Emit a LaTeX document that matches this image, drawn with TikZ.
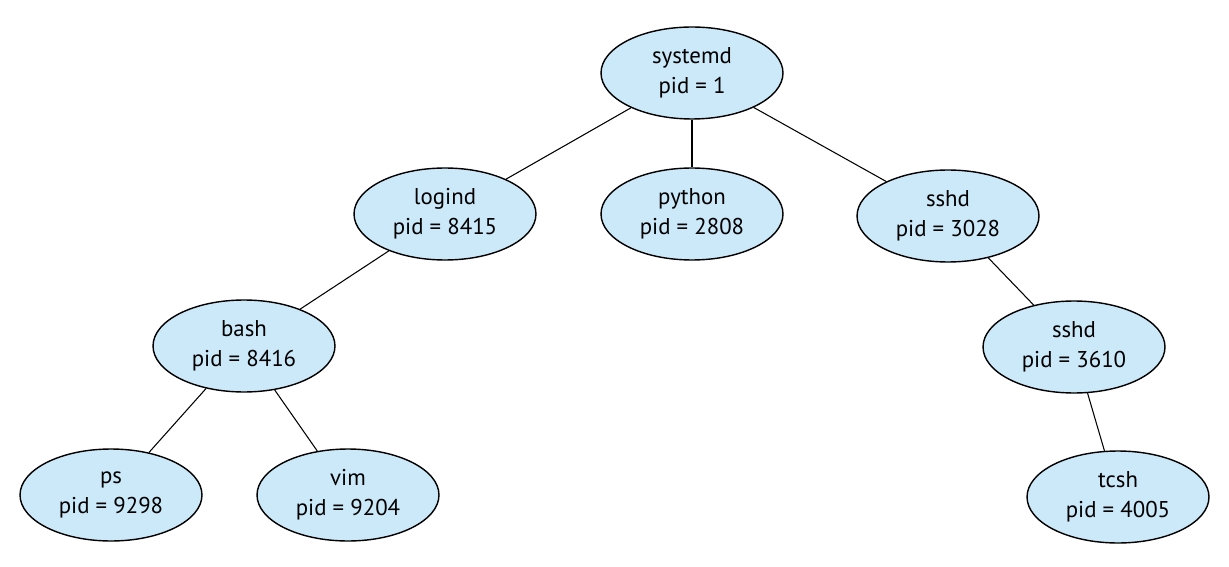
\documentclass[tikz,border=0pt]{standalone}
\usepackage{fontspec}
\setmainfont{PT Sans}
\usetikzlibrary{shapes.geometric}
\definecolor{procblue}{RGB}{203,233,249}
\tikzset{
proc/.style={ellipse,draw,thick,fill=procblue,minimum width=3.64cm,minimum height=1.84cm,
  align=center,inner sep=0pt,font=\fontsize{13}{17}\selectfont},
link/.style={draw,semithick}
}
\begin{document}
\begin{tikzpicture}[x=0.02cm,y=-0.02cm]
\useasboundingbox (0,0) rectangle (1229,567);
\node[proc] (systemd) at (692,73) {systemd\\pid = 1};
\node[proc] (logind) at (445,214) {logind\\pid = 8415};
\node[proc] (python) at (692,214) {python\\pid = 2808};
\node[proc] (sshd) at (948,216) {sshd\\pid = 3028};
\node[proc] (bash) at (244,346) {bash\\pid = 8416};
\node[proc] (sshdb) at (1074,347) {sshd\\pid = 3610};
\node[proc] (ps) at (111,495) {ps\\pid = 9298};
\node[proc] (vim) at (348,495) {vim\\pid = 9204};
\node[proc] (tcsh) at (1118,497) {tcsh\\pid = 4005};

\draw[link] (systemd) -- (logind);
\draw[link] (systemd) -- (python);
\draw[link] (systemd) -- (sshd);
\draw[link] (logind) -- (bash);
\draw[link] (bash) -- (ps);
\draw[link] (bash) -- (vim);
\draw[link] (sshd) -- (sshdb);
\draw[link] (sshdb) -- (tcsh);
\end{tikzpicture}
\end{document}
